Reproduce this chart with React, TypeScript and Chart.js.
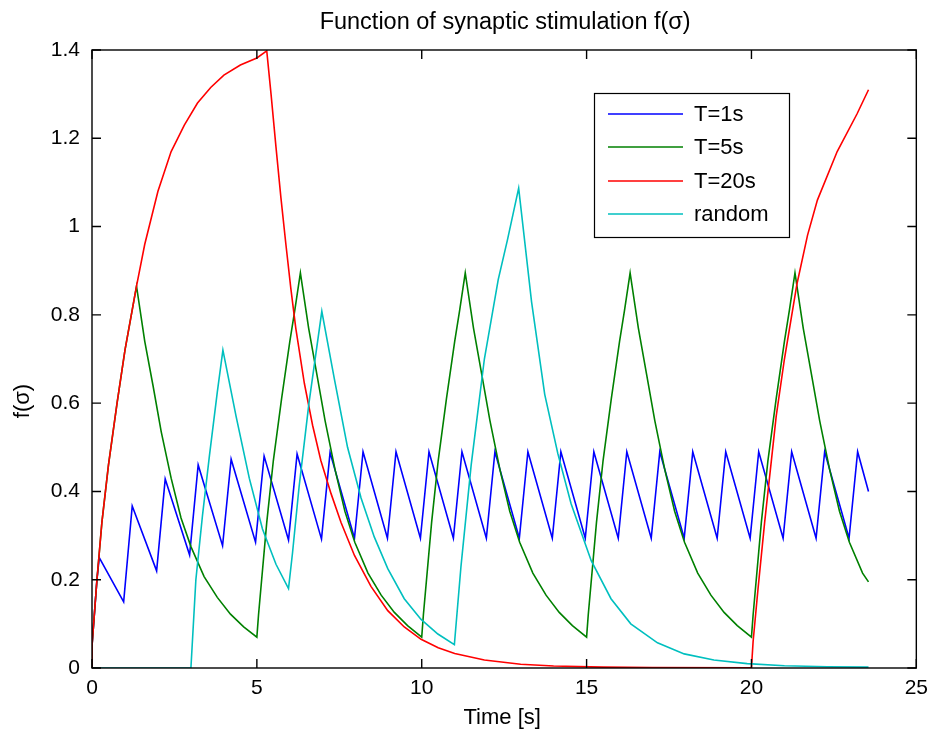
import React, { useEffect, useRef } from "react";
import { Chart, registerables } from "chart.js";

Chart.register(...registerables);

// ---- Data ----
const TITLE = "Function of synaptic stimulation f(σ)";
const X_LABEL = "Time [s]";
const Y_LABEL = "f(σ)";
const SERIES_NAMES = ["T=1s", "T=5s", "T=20s", "random"];
const SERIES_COLORS = ["#0000ff", "#008000", "#ff0000", "#00bfbf"];

const X_MIN = 0;
const X_MAX = 25;
const X_STEP = 5;
const Y_MIN = 0;
const Y_MAX = 1.4;
const Y_STEP = 0.2;

const blueT = [0, 0, 0.15, 0.22, 0.96, 1.22, 1.96, 2.22, 2.96, 3.22, 3.96, 4.22, 4.96, 5.22, 5.96, 6.22, 6.96, 7.22,
  7.96, 8.22, 8.96, 9.22, 9.96, 10.22, 10.96, 11.22, 11.96, 12.22, 12.96, 13.22, 13.96, 14.22, 14.96, 15.22,
  15.96, 16.22, 16.96, 17.22, 17.96, 18.22, 18.96, 19.22, 19.96, 20.22, 20.96, 21.22, 21.96, 22.22, 22.96, 23.22, 23.55];
const blueF = [0, 0.05, 0.2, 0.25, 0.15, 0.367, 0.22, 0.428, 0.256, 0.46, 0.277, 0.473, 0.285, 0.48, 0.29, 0.485, 0.292, 0.488,
  0.294, 0.49, 0.294, 0.49, 0.294, 0.49, 0.294, 0.49, 0.294, 0.49, 0.294, 0.49, 0.294, 0.49, 0.294, 0.49,
  0.294, 0.49, 0.294, 0.49, 0.294, 0.49, 0.294, 0.49, 0.294, 0.49, 0.294, 0.49, 0.294, 0.49, 0.294, 0.49, 0.40];

const greenT = [0, 0, 0.15, 0.3, 0.5, 0.76, 1.0, 1.35, 1.6, 1.85, 2.1, 2.4, 2.7, 3.0, 3.4, 3.8, 4.2, 4.6, 5.0,
  5.05, 5.3, 5.5, 5.75, 6.0, 6.15, 6.32, 6.57, 6.82, 7.07, 7.37, 7.67, 7.97, 8.37, 8.77, 9.17, 9.57, 10.0,
  10.05, 10.3, 10.5, 10.75, 11.0, 11.15, 11.32, 11.57, 11.82, 12.07, 12.37, 12.67, 12.97, 13.37, 13.77, 14.17, 14.57, 15.0,
  15.05, 15.3, 15.5, 15.75, 16.0, 16.15, 16.32, 16.57, 16.82, 17.07, 17.37, 17.67, 17.97, 18.37, 18.77, 19.17, 19.57, 20.0,
  20.05, 20.3, 20.5, 20.75, 21.0, 21.15, 21.32, 21.57, 21.82, 22.07, 22.37, 22.67, 22.97, 23.37, 23.55];
const greenF = [0, 0.05, 0.2, 0.33, 0.46, 0.6, 0.72, 0.865, 0.74, 0.64, 0.535, 0.43, 0.34, 0.275, 0.207, 0.16, 0.122, 0.093, 0.07,
  0.12, 0.33, 0.47, 0.61, 0.74, 0.81, 0.895, 0.77, 0.665, 0.56, 0.45, 0.355, 0.285, 0.215, 0.165, 0.126, 0.096, 0.07,
  0.12, 0.33, 0.47, 0.61, 0.74, 0.81, 0.895, 0.77, 0.665, 0.56, 0.45, 0.355, 0.285, 0.215, 0.165, 0.126, 0.096, 0.07,
  0.12, 0.33, 0.47, 0.61, 0.74, 0.81, 0.895, 0.77, 0.665, 0.56, 0.45, 0.355, 0.285, 0.215, 0.165, 0.126, 0.096, 0.07,
  0.12, 0.33, 0.47, 0.61, 0.74, 0.81, 0.895, 0.77, 0.665, 0.56, 0.45, 0.355, 0.285, 0.215, 0.195];

const redT = [0, 0, 0.15, 0.3, 0.5, 0.76, 1.0, 1.35, 1.6, 2.0, 2.4, 2.8, 3.2, 3.6, 4.0, 4.5, 5.0, 5.3,
  5.43, 5.58, 5.73, 5.88, 6.03, 6.18, 6.44, 6.69, 6.94, 7.25, 7.55, 7.96, 8.46, 8.97, 9.47, 9.98, 10.5, 11.0, 11.9,
  13.0, 14.0, 15.5, 17.0, 20.0,
  20.05, 20.2, 20.4, 20.75, 21.0, 21.38, 21.7, 22.0, 22.6, 23.2, 23.55];
const redF = [0, 0.05, 0.2, 0.33, 0.46, 0.6, 0.72, 0.865, 0.96, 1.08, 1.17, 1.23, 1.28, 1.315, 1.343, 1.366, 1.382, 1.398,
  1.3, 1.18, 1.065, 0.96, 0.86, 0.77, 0.645, 0.55, 0.47, 0.395, 0.33, 0.255, 0.185, 0.13, 0.093, 0.065, 0.046, 0.033, 0.018,
  0.0085, 0.0045, 0.002, 0.001, 0.0002,
  0.06, 0.18, 0.33, 0.57, 0.7, 0.87, 0.98, 1.06, 1.17, 1.255, 1.31];

const cyanT = [0, 3.0, 3.15, 3.35, 3.56, 3.8, 3.97, 4.37, 4.77, 5.17, 5.58, 5.96, 6.08, 6.28, 6.58, 6.97,
  7.35, 7.75, 8.16, 8.56, 8.97, 9.47, 9.98, 10.49, 10.99, 11.19, 11.5, 11.9, 12.32, 12.6, 12.94,
  13.33, 13.73, 14.13, 14.53, 15.14, 15.74, 16.34, 17.15, 17.96, 18.86, 19.87, 21.0, 22.3, 23.55];
const cyanF = [0, 0, 0.2, 0.345, 0.48, 0.625, 0.72, 0.57, 0.43, 0.315, 0.235, 0.18, 0.26, 0.41, 0.6, 0.808,
  0.655, 0.5, 0.385, 0.297, 0.225, 0.157, 0.11, 0.077, 0.053, 0.23, 0.46, 0.7, 0.88, 0.97, 1.087,
  0.83, 0.62, 0.485, 0.372, 0.243, 0.157, 0.1, 0.057, 0.032, 0.018, 0.01, 0.005, 0.003, 0.002];

const FONT = "'Liberation Sans', Arial, Helvetica, sans-serif";

export default function App() {
  const ref = useRef<HTMLCanvasElement>(null);

  useEffect(() => {
    if (!ref.current) return;
    const toPts = (xs: number[], ys: number[]) => xs.map((x, i) => ({ x, y: ys[i] }));
    const seriesData = [toPts(blueT, blueF), toPts(greenT, greenF), toPts(redT, redF), toPts(cyanT, cyanF)];

    const decor = {
      id: "decor",
      afterDraw(chart: any) {
        const { ctx, chartArea: a, scales } = chart;
        const xs = scales.x;
        const ys = scales.y;
        ctx.save();
        // box
        ctx.strokeStyle = "#000";
        ctx.lineWidth = 1.4;
        ctx.strokeRect(a.left, a.top, a.right - a.left, a.bottom - a.top);
        // inward tick marks on all sides
        const TL = 9;
        ctx.beginPath();
        xs.ticks.forEach((t: any) => {
          const px = xs.getPixelForValue(t.value);
          ctx.moveTo(px, a.bottom);
          ctx.lineTo(px, a.bottom - TL);
          ctx.moveTo(px, a.top);
          ctx.lineTo(px, a.top + TL);
        });
        ys.ticks.forEach((t: any) => {
          const py = ys.getPixelForValue(t.value);
          ctx.moveTo(a.left, py);
          ctx.lineTo(a.left + TL, py);
          ctx.moveTo(a.right, py);
          ctx.lineTo(a.right - TL, py);
        });
        ctx.stroke();

        // titles
        ctx.fillStyle = "#000";
        ctx.textAlign = "center";
        ctx.textBaseline = "middle";
        ctx.font = `23.5px ${FONT}`;
        ctx.fillText(TITLE, (a.left + a.right) / 2 + 1, 23);
        ctx.font = `22px ${FONT}`;
        ctx.fillText(X_LABEL, (a.left + a.right) / 2 - 2, 718);
        ctx.save();
        ctx.translate(23, 401);
        ctx.rotate(-Math.PI / 2);
        ctx.fillText(Y_LABEL, 0, 0);
        ctx.restore();

        // legend
        const lx = 594, ly = 93, lw = 195, lh = 144;
        ctx.fillStyle = "#fff";
        ctx.fillRect(lx, ly, lw, lh);
        ctx.lineWidth = 1.2;
        ctx.strokeStyle = "#000";
        ctx.strokeRect(lx + 0.5, ly + 0.5, lw, lh);
        const rowY = [114, 147, 181, 214];
        ctx.font = `22px ${FONT}`;
        ctx.textAlign = "left";
        SERIES_NAMES.forEach((name, i) => {
          ctx.strokeStyle = SERIES_COLORS[i];
          ctx.lineWidth = 1.6;
          ctx.beginPath();
          ctx.moveTo(608, rowY[i]);
          ctx.lineTo(683, rowY[i]);
          ctx.stroke();
          ctx.fillStyle = "#000";
          ctx.fillText(name, 694, rowY[i] + 1);
        });
        ctx.restore();
      },
    };

    const chart = new Chart(ref.current, {
      type: "line",
      data: {
        datasets: SERIES_NAMES.map((name, i) => ({
          label: name,
          data: seriesData[i],
          borderColor: SERIES_COLORS[i],
          backgroundColor: SERIES_COLORS[i],
          borderWidth: 1.6,
          pointRadius: 0,
          tension: 0,
          fill: false,
          order: 4 - i,
        })),
      },
      options: {
        animation: false,
        responsive: true,
        maintainAspectRatio: false,
        devicePixelRatio: 1,
        parsing: true,
        layout: { padding: { left: 0, top: 50, right: 16, bottom: 0 } },
        plugins: {
          legend: { display: false },
          title: { display: false },
          tooltip: { enabled: false },
        },
        scales: {
          x: {
            type: "linear",
            min: X_MIN,
            max: X_MAX,
            grid: { display: false, drawTicks: false },
            border: { display: false },
            ticks: {
              stepSize: X_STEP,
              color: "#000",
              padding: 8,
              maxRotation: 0,
              font: { family: FONT, size: 21 },
            },
            afterFit: (s: any) => {
              s.height = 69;
            },
          },
          y: {
            type: "linear",
            min: Y_MIN,
            max: Y_MAX,
            grid: { display: false, drawTicks: false },
            border: { display: false },
            ticks: {
              stepSize: Y_STEP,
              color: "#000",
              padding: 12,
              font: { family: FONT, size: 21 },
              callback: (v: any) => String(Math.round(Number(v) * 10) / 10),
            },
            afterFit: (s: any) => {
              s.width = 92;
            },
          },
        },
      },
      plugins: [decor],
    });

    return () => chart.destroy();
  }, []);

  return (
    <div style={{ position: "absolute", left: 0, top: 0, width: 936, height: 737, background: "#fff" }}>
      <canvas ref={ref} />
    </div>
  );
}
